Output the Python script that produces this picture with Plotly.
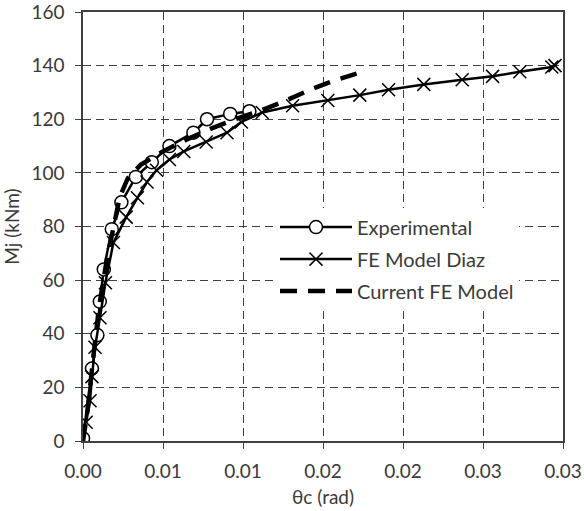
import plotly.graph_objects as go

# Experimental
exp_x = [0.0, 0.00056, 0.0009, 0.00105, 0.0013, 0.0018, 0.0024, 0.0033, 0.0043, 0.0054, 0.0069, 0.00775, 0.0092, 0.0104]
exp_y = [1, 27, 39.5, 52, 64, 79, 89, 98.5, 104, 110, 115, 120, 122, 123]

# FE Model Diaz
diaz_x = [0.0002, 0.00044, 0.00056, 0.00075, 0.00106, 0.0014, 0.0019, 0.0027, 0.0034, 0.0040, 0.0046, 0.0054,
          0.0063, 0.0077, 0.0090, 0.0099, 0.0112, 0.0131, 0.0153, 0.0173, 0.0191, 0.0213, 0.0237, 0.0256,
          0.0273, 0.0293, 0.0295]
diaz_y = [7, 15, 24, 35, 46, 59, 74, 83.5, 90.7, 96.6, 101, 105, 108, 111.5, 115, 119, 122.5, 125, 127, 129,
          131, 133, 134.7, 136, 137.7, 139.5, 140]

# Current FE Model
cur_x = [0.0, 0.0003, 0.0006, 0.001, 0.0015, 0.0019, 0.0023, 0.0028, 0.0036, 0.005, 0.0065, 0.008, 0.0095,
         0.011, 0.0125, 0.0142, 0.0155, 0.0171]
cur_y = [0, 12, 29, 50, 68, 80, 91, 98, 103, 108, 112.5, 116.5, 120, 123, 126.5, 131, 134, 137]

x_tickvals = [0.0, 0.005, 0.01, 0.015, 0.02, 0.025, 0.03]
x_ticktext = ["0.00", "0.01", "0.01", "0.02", "0.02", "0.03", "0.03"]
y_tickvals = [0, 20, 40, 60, 80, 100, 120, 140, 160]

FONT = "Lato, 'Open Sans', sans-serif"
TXT = "#3a3a3a"
AX = "#404040"
FS = 19

fig = go.Figure()
fig.add_trace(go.Scatter(
    x=exp_x, y=exp_y, mode="lines+markers", name="Experimental",
    legendgroup="a",
    line=dict(color="black", width=2.5),
    marker=dict(symbol="circle", size=13, color="white", line=dict(color="black", width=1.5)),
))
fig.add_trace(go.Scatter(
    x=diaz_x, y=diaz_y, mode="lines+markers", name="FE Model Diaz",
    legendgroup="b",
    line=dict(color="black", width=2.5),
    marker=dict(symbol="x-thin-open", size=13, color="black", line=dict(color="black", width=1.5)),
))
fig.add_trace(go.Scatter(
    x=cur_x, y=cur_y, mode="lines", name="Current FE Model",
    legendgroup="c",
    line=dict(color="black", width=4.5, dash="17px,11px"),
))

fig.update_layout(
    width=584, height=511,
    margin=dict(l=83, r=21, t=12, b=70, autoexpand=False),
    paper_bgcolor="white", plot_bgcolor="white",
    font=dict(family=FONT, size=FS, color=TXT),
    showlegend=True,
    legend=dict(
        x=0.4, y=0.544, xanchor="left", yanchor="top",
        bgcolor="white", borderwidth=0,
        font=dict(family=FONT, size=20, color=TXT),
        traceorder="grouped", tracegroupgap=3, itemwidth=72,
    ),
)
fig.update_xaxes(
    range=[0, 0.03], tickvals=x_tickvals, ticktext=x_ticktext, automargin=False,
    showline=True, linecolor=AX, linewidth=1.5, mirror=True,
    ticks="outside", ticklen=6, tickcolor=AX, ticklabelstandoff=6, ticklabeloverflow="allow",
    showgrid=True, gridcolor=AX, gridwidth=1, griddash="8px,5px",
    zeroline=False,
    title=dict(text="θc (rad)", font=dict(family=FONT, size=FS, color=TXT), standoff=10),
    tickfont=dict(family=FONT, size=FS, color=TXT),
)
fig.update_yaxes(
    range=[0, 160], tickvals=y_tickvals, automargin=False,
    showline=True, linecolor=AX, linewidth=1.5, mirror=True,
    ticks="outside", ticklen=6, tickcolor=AX, ticklabelstandoff=7, ticklabeloverflow="allow",
    showgrid=True, gridcolor=AX, gridwidth=1, griddash="8px,5px",
    zeroline=False,
    title=dict(text="Mj (kNm)", font=dict(family=FONT, size=FS, color=TXT), standoff=8),
    tickfont=dict(family=FONT, size=FS, color=TXT),
)

fig.write_html("out.html", config={"displayModeBar": False},
               post_script="document.body.style.margin='0';")
